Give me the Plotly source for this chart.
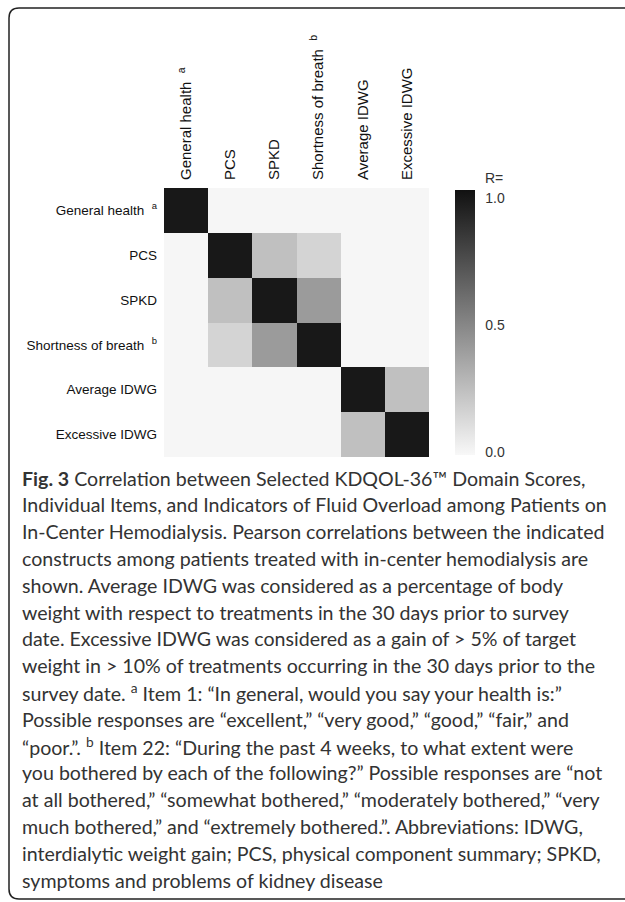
import plotly.graph_objects as go

# ---------------- data ----------------
labels = ["General health\u00a0\u00a0<sup>a</sup>", "PCS", "SPKD",
          "Shortness of breath\u00a0\u00a0<sup>b</sup>", "Average IDWG", "Excessive IDWG"]

r_general_health = [1.00, 0.00, 0.00, 0.00, 0.00, 0.00]
r_pcs            = [0.00, 1.00, 0.24, 0.15, 0.00, 0.00]
r_spkd           = [0.00, 0.24, 1.00, 0.41, 0.00, 0.00]
r_sob            = [0.00, 0.15, 0.41, 1.00, 0.00, 0.00]
r_avg_idwg       = [0.00, 0.00, 0.00, 0.00, 1.00, 0.24]
r_exc_idwg       = [0.00, 0.00, 0.00, 0.00, 0.24, 1.00]

colorbar_tickvals = [0.0, 0.5, 1.0]
colorbar_ticktext = ["0.0", "0.5", "1.0"]
colorbar_title = "R="

caption_lines = [
    "<b>Fig. 3</b> Correlation between Selected KDQOL-36™ Domain Scores,",
    "Individual Items, and Indicators of Fluid Overload among Patients on",
    "In-Center Hemodialysis. Pearson correlations between the indicated",
    "constructs among patients treated with in-center hemodialysis are",
    "shown. Average IDWG was considered as a percentage of body",
    "weight with respect to treatments in the 30 days prior to survey",
    "date. Excessive IDWG was considered as a gain of > 5% of target",
    "weight in > 10% of treatments occurring in the 30 days prior to the",
    "survey date. <sup>a</sup> Item 1: “In general, would you say your health is:”",
    "Possible responses are “excellent,” “very good,” “good,” “fair,” and",
    "“poor.”. <sup>b</sup> Item 22: “During the past 4 weeks, to what extent were",
    "you bothered by each of the following?” Possible responses are “not",
    "at all bothered,” “somewhat bothered,” “moderately bothered,” “very",
    "much bothered,” and “extremely bothered.”. Abbreviations: IDWG,",
    "interdialytic weight gain; PCS, physical component summary; SPKD,",
    "symptoms and problems of kidney disease",
]

z = [r_general_health, r_pcs, r_spkd, r_sob, r_avg_idwg, r_exc_idwg]

# ---------------- layout geometry (pixels) ----------------
W_FIG, H_FIG = 625, 902
L, T = 164, 188          # plot area left / top
PW, PH = 265, 269        # plot area size
R = W_FIG - L - PW
B = H_FIG - T - PH


def X(px):
    return (px - L) / PW


def Y(py):
    return 1 - (py - T) / PH


ARIAL = "Liberation Sans, Arial, sans-serif"

fig = go.Figure()
fig.add_trace(go.Heatmap(
    z=z, x=labels, y=labels,
    zmin=-0.01, zmax=1.03,
    colorscale=[[0, "#f8f8f8"], [1, "#111111"]],
    hoverinfo="skip",
    colorbar=dict(
        x=X(455), xanchor="left", y=Y(190), yanchor="top",
        thickness=20, lenmode="pixels", len=265, ypad=0, xpad=0,
        outlinewidth=0,
        tickvals=colorbar_tickvals, ticktext=colorbar_ticktext,
        ticks="outside", ticklen=8, tickcolor="rgba(0,0,0,0)",
        tickfont=dict(family=ARIAL, size=14, color="#333"),
    ),
))

fig.update_xaxes(side="top", tickangle=-90, showgrid=False, zeroline=False,
                 showline=False, ticks="", ticklabelstandoff=7,
                 tickfont=dict(family=ARIAL, size=15, color="#111"))
fig.update_yaxes(autorange="reversed", showgrid=False, zeroline=False,
                 showline=False, ticks="", ticklabelstandoff=6,
                 tickfont=dict(family=ARIAL, size=13.5, color="#111"))

# colorbar title
fig.add_annotation(text=colorbar_title, xref="paper", yref="paper",
                   x=X(483), y=Y(178), xanchor="left", yanchor="middle",
                   showarrow=False,
                   font=dict(family=ARIAL, size=14, color="#333"))

# caption
first_y, step = 478, 26.8
for i, line in enumerate(caption_lines):
    fig.add_annotation(
        text=line, xref="paper", yref="paper",
        x=X(20), y=Y(first_y + i * step), xanchor="left", yanchor="middle",
        showarrow=False, align="left",
        font=dict(family="Lato, Open Sans, sans-serif", size=19.6, color="#333"),
    )

# rounded frame
rad = 10
x0, y0, x1, y1 = 9, 8, 640, 899
path = (f"M {X(x0 + rad)},{Y(y0)} L {X(x1)},{Y(y0)} "
        f"M {X(x1)},{Y(y1)} L {X(x0 + rad)},{Y(y1)} "
        f"Q {X(x0)},{Y(y1)} {X(x0)},{Y(y1 - rad)} "
        f"L {X(x0)},{Y(y0 + rad)} Q {X(x0)},{Y(y0)} {X(x0 + rad)},{Y(y0)}")
fig.add_shape(type="path", xref="paper", yref="paper", path=path,
              line=dict(color="#222", width=1.5))

fig.update_layout(
    width=W_FIG, height=H_FIG,
    margin=dict(l=L, r=R, t=T, b=B, autoexpand=False),
    paper_bgcolor="white", plot_bgcolor="white",
    showlegend=False,
)

fig.write_html("out.html",
               config={"displayModeBar": False, "staticPlot": True},
               post_script="document.body.style.margin='0px';"
                           "document.body.style.overflow='hidden';")
